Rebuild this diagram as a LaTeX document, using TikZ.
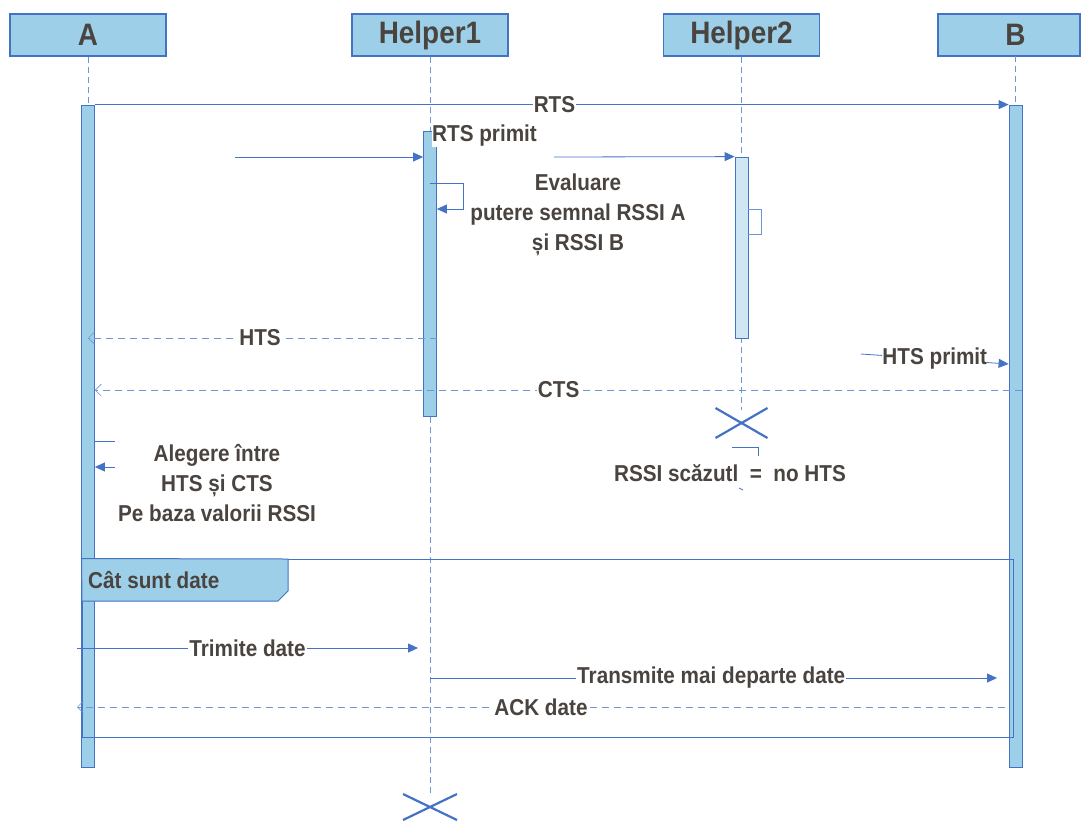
\documentclass[tikz,border=0pt]{standalone}
\usepackage{fontspec}
\setmainfont{Liberation Sans}[FakeStretch=0.9]
\usetikzlibrary{arrows.meta}
\definecolor{boxfill}{RGB}{157,208,232}
\definecolor{lightbar}{RGB}{207,230,243}
\definecolor{linec}{RGB}{68,114,196}
\definecolor{dashc}{RGB}{110,150,215}
\definecolor{txt}{RGB}{74,68,64}
\tikzset{
  hdr/.style={draw=linec, line width=1.4pt, fill=boxfill, minimum height=42pt, inner sep=0pt,
    font=\fontsize{31}{32}\selectfont\bfseries, text=txt},
  life/.style={draw=dashc, line width=0.8pt, dash pattern=on 6pt off 4pt},
  actbar/.style={draw=linec, line width=0.8pt, fill=boxfill, minimum width=13pt, inner sep=0pt},
  msg/.style={draw=linec, line width=0.8pt, -{Triangle[length=10pt,width=9pt]}},
  ret/.style={draw=dashc, line width=0.8pt, dash pattern=on 7pt off 5pt,
    -{Straight Barb[length=6pt,width=12pt,line width=0.6pt]}},
  plain/.style={draw=linec, line width=0.8pt},
  lbl/.style={fill=white, inner sep=1pt, font=\fontsize{23}{30}\selectfont\bfseries, text=txt},
  note/.style={inner sep=0pt, align=center, font=\fontsize{23}{30}\selectfont\bfseries, text=txt},
  xmark/.style={draw=linec, line width=2.2pt},
}
\begin{document}
\begin{tikzpicture}[x=1pt,y=-1pt]
\fill[white] (0,0) rectangle (1081,823);
\useasboundingbox (0,0) rectangle (1081,823);

% headers
\node[hdr, minimum width=156pt] (hA) at (88,35) {A};
\node[hdr, minimum width=156pt] (hH1) at (430,35) {Helper1};
\node[hdr, minimum width=156pt] (hH2) at (741.5,35) {Helper2};
\draw[draw=linec, line width=1.4pt, fill=boxfill] (938,14) rectangle (1080,56);
\node[inner sep=0pt, font=\fontsize{31}{32}\selectfont\bfseries, text=txt] (hB) at (1015.5,35) {B};
\coordinate (hBs) at (1015.5,56);

% lifelines
\coordinate (endH1) at (430,795);
\coordinate (endH2) at (741.5,410);
\draw[life] (hA.south) -- (88,105);
\draw[life] (hBs) -- (1015.5,105);
\draw[life] (hH1.south) -- (endH1);
\draw[life] (hH2.south) -- (endH2);

% activation bars
\node[actbar, minimum height=662pt] (barA) at (88,436) {};
\node[actbar, minimum height=662pt] (barB) at (1015.5,436) {};
\node[actbar, minimum height=285pt] (barH1) at (430,273.5) {};
\node[actbar, fill=lightbar, minimum height=181pt] (barH2) at (741.5,247.5) {};

% destruction marks
\coordinate (xH2) at (741.5,423);
\draw[xmark] (xH2) ++(-26,-15) -- ++(52,30);
\draw[xmark] (xH2) ++(-26,15) -- ++(52,-30);
\coordinate (xH1) at (430,807);
\draw[xmark] (xH1) ++(-27,-13) -- ++(54,26);
\draw[xmark] (xH1) ++(-27,13) -- ++(54,-26);

% RTS
\draw[msg] (barA.north east) -- node[lbl, pos=0.503] {RTS} (barB.north west);
\node[lbl, anchor=west, inner sep=0pt] (rtsp) at (432,136) {RTS primit};
\coordinate (s1) at (235,157);
\draw[msg] (s1) -- (s1 -| barH1.west);
\coordinate (s2) at (554,157);
\draw[msg] (s2) -- (barH2.north west);

% self loops
\draw[msg] (barH1.center |- 0,183) -- (463,183) -- (463,209) -- (barH1.east |- 0,209);
\draw[plain, draw=dashc] (barH2.east |- 0,209) -- (761,209) -- (761,234) -- (barH2.east |- 0,234);
\node[note] (eval) at (578,215) {Evaluare\\putere semnal RSSI A\\și RSSI B};

% HTS / CTS
\draw[ret] (barH1.east |- 0,338) -- node[lbl, pos=0.507] {HTS} (barA.center |- 0,338);
\draw[ret] (barB.east |- 0,390) -- node[lbl, pos=0.5] {CTS} (barA.east |- 0,390);
\coordinate (s3) at (861,354);
\draw[msg] (s3) -- node[lbl, pos=0.5, inner sep=0pt] {HTS primit} (barB.west |- 0,364);

% choice at A
\draw[plain] (barA.east |- 0,441) -- (115,441);
\coordinate (s4) at (115,467);
\draw[msg] (s4) -- (barA.east |- 0,467);
\node[note] (alg) at (217,483) {Alegere între\\HTS și CTS\\Pe baza valorii RSSI};

% RSSI low
\draw[plain] (732,447) -- (758,447) -- (758,456);
\draw[plain] (739,488) -- (743,490);
\node[note] (low) at (730,473) {RSSI scăzutl\ \ =\ \ no HTS};

% loop frame
\node[draw=linec, line width=1pt, minimum width=931pt, minimum height=178pt, inner sep=0pt] (frame) at (547.5,648) {};
\draw[draw=linec, line width=1pt, fill=boxfill] (frame.north west) -- (288,559) -- (288,591) -- (278,601) -- (82,601) -- cycle;
\node[note, anchor=west] (ftitle) at (88,580) {Cât sunt date};

% data
\coordinate (s5) at (77,648);
\coordinate (t5) at (418,648);
\draw[msg] (s5) -- node[lbl, pos=0.5] {Trimite date} (t5);
\coordinate (s6) at (430,678);
\coordinate (t6) at (997,678);
\draw[msg] (s6) -- node[lbl, pos=0.496] {Transmite mai departe date} (t6);
\coordinate (s7) at (1005,707);
\coordinate (t7) at (77,707);
\draw[ret] (s7) -- node[lbl, pos=0.5] {ACK date} (t7);
\end{tikzpicture}
\end{document}
